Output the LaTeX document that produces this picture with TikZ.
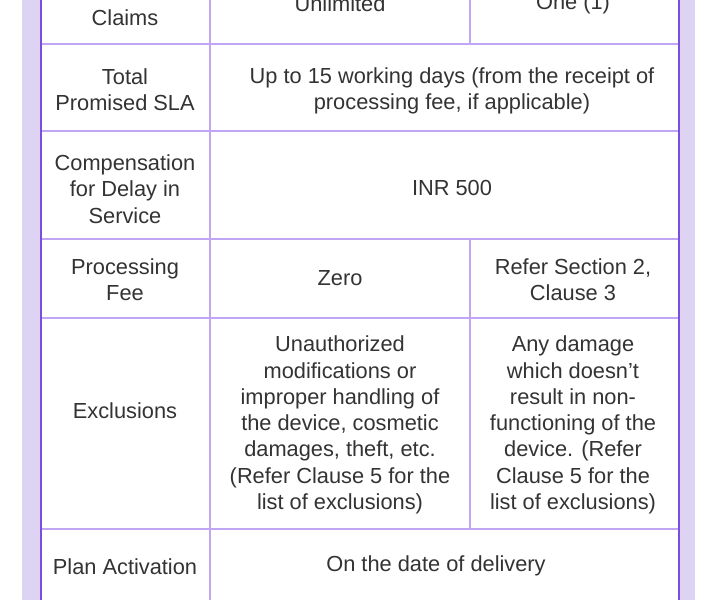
\documentclass[tikz,border=0pt]{standalone}
\usepackage{fontspec}
\setmainfont{Liberation Sans}
\definecolor{lav}{HTML}{DDD3F3}
\definecolor{border}{HTML}{7C4DDF}
\definecolor{grid}{HTML}{C2A6F6}
\definecolor{txt}{HTML}{333333}
\begin{document}
\begin{tikzpicture}[x=1pt,y=-1pt,
  cell/.style={align=center,text=txt,font=\fontsize{21.8}{26.3}\selectfont,inner sep=0pt},
  gridline/.style={draw=grid,line width=2pt},
  borderline/.style={draw=border,line width=2pt}]
\useasboundingbox (0,0) rectangle (720,600);
\fill[lav] (22,0) rectangle (41,600);
\fill[lav] (679,0) rectangle (695,600);
\fill[white] (41,0) rectangle (679,600);
% horizontal grid lines
\foreach \y in {43.5,130.5,238.5,317.5,528.5}{\draw[gridline] (41,\y) -- (679,\y);}
% verticals
\draw[gridline] (210,0) -- (210,600);
\draw[gridline] (470,0) -- (470,43.5);
\draw[gridline] (470,238.5) -- (470,528.5);
\draw[borderline] (41,0) -- (41,600);
\draw[borderline] (679,0) -- (679,600);
% texts
\node[cell] (c1) at (125,18) {Claims};
\node[cell] (c2) at (340,4) {Unlimited};
\node[cell] (c3) at (573,4) {One (1)};
\node[cell] (s1) at (125,90) {Total\\Promised SLA};
\node[cell] (s2) at (452,91) {Up to 15 working days (from the receipt of\\processing fee, if applicable)};
\node[cell] (d1) at (125,189) {Compensation\\for Delay in\\Service};
\node[cell] (d2) at (452,188) {INR 500};
\node[cell] (p1) at (125,280) {Processing\\Fee};
\node[cell] (p2) at (340,278) {Zero};
\node[cell] (p3) at (573,280) {Refer Section 2,\\Clause 3};
\node[cell] (e1) at (125,411) {Exclusions};
\node[cell] (e2) at (340,425) {Unauthorized\\modifications or\\improper handling of\\the device, cosmetic\\damages, theft, etc.\\(Refer Clause 5 for the\\list of exclusions)};
\node[cell] (e3) at (573,425) {Any damage\\which doesn’t\\result in non-\\functioning of the\\device. (Refer\\Clause 5 for the\\list of exclusions)};
\node[cell] (a1) at (125,567) {Plan Activation};
\node[cell] (a2) at (436,566) {On the date of delivery};
\end{tikzpicture}
\end{document}
